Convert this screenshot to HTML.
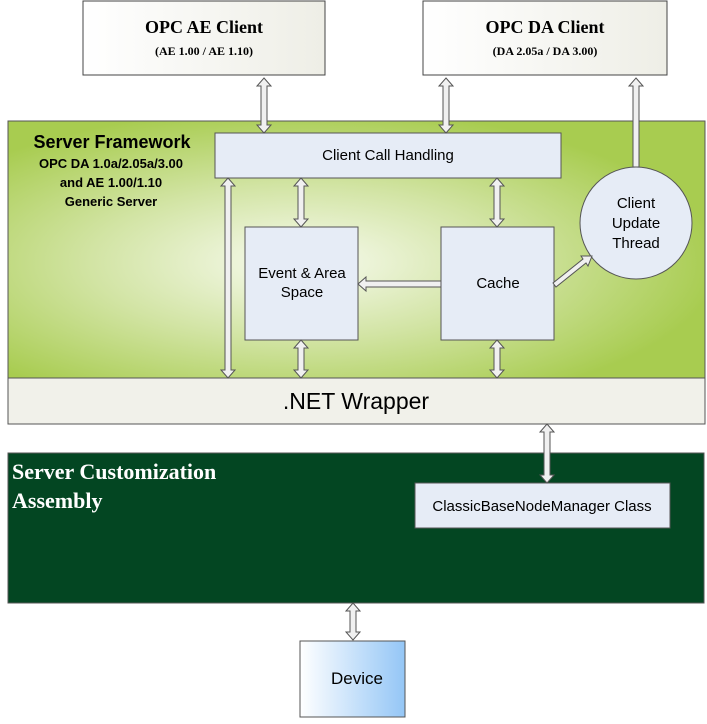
<!DOCTYPE html>
<html><head><style>
body{margin:0;width:707px;height:719px;background:#fff;overflow:hidden}
</style></head><body>
<svg width="707" height="719" xmlns="http://www.w3.org/2000/svg" font-family="Liberation Sans, sans-serif">
<defs>
<radialGradient id="g1" cx="0.42" cy="0.55" r="0.6">
<stop offset="0" stop-color="#f8fbf0"/><stop offset="0.5" stop-color="#d2e4a4"/><stop offset="1" stop-color="#a8cc50"/>
</radialGradient>
<linearGradient id="g2" x1="0" x2="1"><stop offset="0" stop-color="#fff"/><stop offset="1" stop-color="#94c6f6"/></linearGradient>
<linearGradient id="g3" x1="0" x2="1"><stop offset="0" stop-color="#fff"/><stop offset="1" stop-color="#eeeee6"/></linearGradient>
</defs>
<rect x="83" y="1" width="242" height="74" fill="url(#g3)" stroke="#444"/>
<text x="204" y="33" font-size="18" font-weight="bold" text-anchor="middle" font-family="Liberation Serif, serif">OPC AE Client</text>
<text x="204" y="55" font-size="12" font-weight="bold" text-anchor="middle" font-family="Liberation Serif, serif">(AE 1.00 / AE 1.10)</text>
<rect x="423" y="1" width="244" height="74" fill="url(#g3)" stroke="#444"/>
<text x="545" y="33" font-size="18" font-weight="bold" text-anchor="middle" font-family="Liberation Serif, serif">OPC DA Client</text>
<text x="545" y="55" font-size="12" font-weight="bold" text-anchor="middle" font-family="Liberation Serif, serif">(DA 2.05a / DA 3.00)</text>
<rect x="8" y="121" width="697" height="257" fill="url(#g1)" stroke="#555"/>
<text x="112" y="148" font-size="18" font-weight="bold" text-anchor="middle">Server Framework</text>
<text x="111" y="168" font-size="13" font-weight="bold" text-anchor="middle">OPC DA 1.0a/2.05a/3.00</text>
<text x="111" y="187" font-size="13" font-weight="bold" text-anchor="middle">and AE 1.00/1.10</text>
<text x="111" y="206" font-size="13" font-weight="bold" text-anchor="middle">Generic Server</text>
<rect x="215" y="133" width="346" height="45" fill="#e6ecf6" stroke="#555"/>
<text x="388" y="160" font-size="15" text-anchor="middle">Client Call Handling</text>
<rect x="245" y="227" width="113" height="113" fill="#e6ecf6" stroke="#555"/>
<text x="302" y="278" font-size="15" text-anchor="middle">Event &amp; Area</text>
<text x="302" y="297" font-size="15" text-anchor="middle">Space</text>
<rect x="441" y="227" width="113" height="113" fill="#e6ecf6" stroke="#555"/>
<text x="498" y="288" font-size="15" text-anchor="middle">Cache</text>
<circle cx="636" cy="223" r="56" fill="#e6ecf6" stroke="#555"/>
<text x="636" y="208" font-size="15" text-anchor="middle">Client</text>
<text x="636" y="228" font-size="15" text-anchor="middle">Update</text>
<text x="636" y="248" font-size="15" text-anchor="middle">Thread</text>
<rect x="8" y="378" width="697" height="46" fill="#f1f1ea" stroke="#555"/>
<text x="356" y="409" font-size="23" text-anchor="middle">.NET Wrapper</text>
<rect x="8" y="453" width="696" height="150" fill="#034622" stroke="#555"/>
<text x="12" y="479" font-size="22" font-weight="bold" fill="#fff" font-family="Liberation Serif, serif">Server Customization</text>
<text x="12" y="508" font-size="22" font-weight="bold" fill="#fff" font-family="Liberation Serif, serif">Assembly</text>
<rect x="415" y="483" width="255" height="45" fill="#e6ecf6" stroke="#555"/>
<text x="542" y="511" font-size="15" text-anchor="middle">ClassicBaseNodeManager Class</text>
<rect x="300" y="641" width="105" height="76" fill="url(#g2)" stroke="#555"/>
<text x="357" y="684" font-size="17" text-anchor="middle">Device</text>
<g fill="#f0f0f0" stroke="#555" stroke-width="1">
<polygon points="264,78 271,86 267,86 267,125 271,125 264,133 257,125 261,125 261,86 257,86"/>
<polygon points="446,78 453,86 449,86 449,125 453,125 446,133 439,125 443,125 443,86 439,86"/>
<polygon points="228,178 235,186 231,186 231,370 235,370 228,378 221,370 225,370 225,186 221,186"/>
<polygon points="301,178 308,186 304,186 304,219 308,219 301,227 294,219 298,219 298,186 294,186"/>
<polygon points="301,340 308,348 304,348 304,370 308,370 301,378 294,370 298,370 298,348 294,348"/>
<polygon points="497,178 504,186 500,186 500,219 504,219 497,227 490,219 494,219 494,186 490,186"/>
<polygon points="497,340 504,348 500,348 500,370 504,370 497,378 490,370 494,370 494,348 490,348"/>
<polygon points="547,424 554,432 550,432 550,475 554,475 547,483 540,475 544,475 544,432 540,432"/>
<polygon points="353,603 360,611 356,611 356,632 360,632 353,640 346,632 350,632 350,611 346,611"/>
<polygon points="636,78 643,86 639,86 639,167 633,167 633,86 629,86"/>
<polygon points="358,284 366,277 366,281 441,281 441,287 366,287 366,291"/>
<polygon points="592,256 588,266 586,263 556,287 553,283 583,259 581,256"/>
</g>
</svg>
</body></html>
